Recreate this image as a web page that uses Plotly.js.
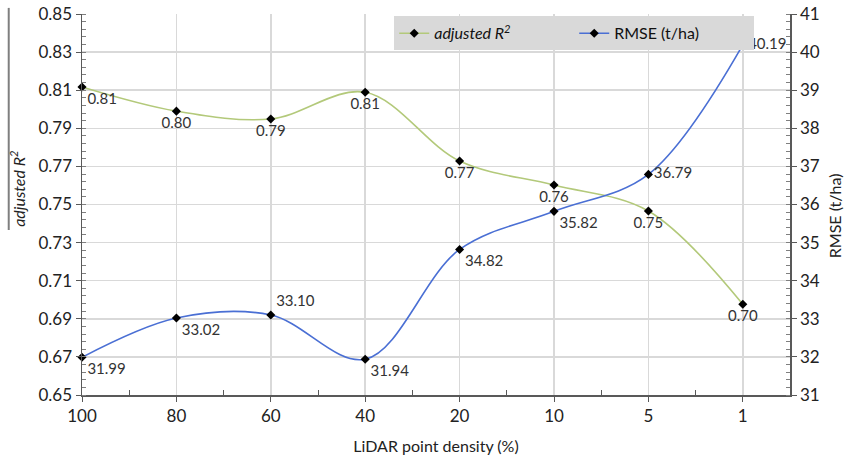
<!DOCTYPE html>
<html>
<head>
<meta charset="utf-8">
<script src="https://cdn.plot.ly/plotly-3.0.1.min.js"></script>
<style>html,body{margin:0;padding:0;background:#fff;}#chart{width:846px;height:458px;}</style>
</head>
<body>
<div id="chart"></div>
<script>
// Data
const densityLabels = ['100', '80', '60', '40', '20', '10', '5', '1'];
const adjR2 = [0.8117, 0.799, 0.7949, 0.8089, 0.7728, 0.7602, 0.7466, 0.6976];
const rmse = [31.99, 33.02, 33.10, 31.94, 34.82, 35.82, 36.79, 40.19];
const r2TextPos = ['bottom right', 'bottom center', 'bottom center', 'bottom center', 'bottom center', 'bottom center', 'bottom center', 'bottom center'];
const rmseTextPos = ['bottom right', 'bottom right', 'top right', 'bottom right', 'bottom right', 'bottom right', 'middle right', 'middle right'];

const xIdx = densityLabels.map((_, i) => i);
const FONT = 'Lato, "Open Sans", sans-serif';

const traces = [
  {
    x: xIdx, y: adjR2, name: '<i>adjusted R<sup>2</sup></i>', yaxis: 'y',
    type: 'scatter', mode: 'lines+markers+text',
    line: {color: '#b3c97a', width: 1.6, shape: 'spline', smoothing: 1},
    marker: {symbol: 'diamond', size: 7, color: '#000'},
    texttemplate: '%{y:.2f}', textposition: r2TextPos,
    textfont: {family: FONT, size: 15, color: '#333'},
    cliponaxis: false
  },
  {
    x: xIdx, y: rmse, name: 'RMSE (t/ha)', yaxis: 'y2',
    type: 'scatter', mode: 'lines+markers+text',
    line: {color: '#4a6fd4', width: 1.6, shape: 'spline', smoothing: 1},
    marker: {symbol: 'diamond', size: 7, color: '#000'},
    texttemplate: '%{y:.2f}', textposition: rmseTextPos,
    textfont: {family: FONT, size: 15, color: '#333'},
    cliponaxis: false
  }
];

const layout = {
  width: 846, height: 458,
  margin: {l: 82, r: 56, t: 14, b: 63},
  paper_bgcolor: '#fff', plot_bgcolor: '#fff',
  font: {family: FONT, size: 15, color: '#222'},
  showlegend: true,
  legend: {
    orientation: 'h', x: 0.441, y: 0.994, xanchor: 'left', yanchor: 'top',
    bgcolor: '#d9d9d9', font: {family: FONT, size: 16, color: '#111'},
    itemwidth: 30, entrywidth: 135
  },
  xaxis: {
    range: [0, 7.5], tickmode: 'array', tickvals: xIdx, ticktext: densityLabels,
    showgrid: true, gridcolor: '#d9d9d9', gridwidth: 1.5,
    showline: true, linecolor: '#595959', linewidth: 1.5,
    ticks: 'outside', ticklen: 5, tickcolor: '#595959',
    minor: {tickmode: 'linear', tick0: 0.5, dtick: 1, ticks: 'inside', ticklen: 5, tickcolor: '#595959', showgrid: false},
    zeroline: false,
    tickfont: {family: FONT, size: 17, color: '#222'},
    title: {text: 'LiDAR point density (%)', font: {family: FONT, size: 16, color: '#222'}, standoff: 16}
  },
  yaxis: {
    range: [0.65, 0.85], tickmode: 'linear', tick0: 0.65, dtick: 0.02, tickformat: '.2f',
    showgrid: true, gridcolor: '#d9d9d9', gridwidth: 1.5,
    showline: true, linecolor: '#595959', linewidth: 1.5,
    ticks: 'outside', ticklen: 5, tickcolor: '#595959',
    minor: {tickmode: 'linear', tick0: 0.65, dtick: 0.004, ticks: 'inside', ticklen: 4, tickcolor: '#7f7f7f', showgrid: false},
    zeroline: false,
    tickfont: {family: FONT, size: 17, color: '#222'}
  },
  yaxis2: {
    range: [31, 41], tickmode: 'linear', tick0: 31, dtick: 1,
    overlaying: 'y', side: 'right',
    showgrid: false, showline: true, linecolor: '#595959', linewidth: 1.5,
    ticks: 'outside', ticklen: 5, tickcolor: '#595959',
    minor: {tickmode: 'linear', tick0: 31, dtick: 0.2, ticks: 'inside', ticklen: 4, tickcolor: '#7f7f7f', showgrid: false},
    zeroline: false,
    tickfont: {family: FONT, size: 17, color: '#222'}
  },
  annotations: [
    {xref: 'paper', yref: 'paper', x: -0.091, y: 0.54, text: '<i>adjusted R<sup>2</sup></i>',
     textangle: -90, showarrow: false, xanchor: 'center', yanchor: 'middle',
     font: {family: FONT, size: 16, color: '#222'}},
    {xref: 'paper', yref: 'paper', x: 1.064, y: 0.47, text: 'RMSE (t/ha)',
     textangle: -90, showarrow: false, xanchor: 'center', yanchor: 'middle',
     font: {family: FONT, size: 16, color: '#222'}}
  ],
  shapes: [
    {type: 'line', xref: 'paper', yref: 'paper', x0: -0.1035, x1: -0.1035, y0: 1.016, y1: 0.433,
     line: {color: '#7f7f7f', width: 2}}
  ]
};

Plotly.newPlot('chart', traces, layout, {displayModeBar: false, staticPlot: true});
</script>
</body>
</html>
